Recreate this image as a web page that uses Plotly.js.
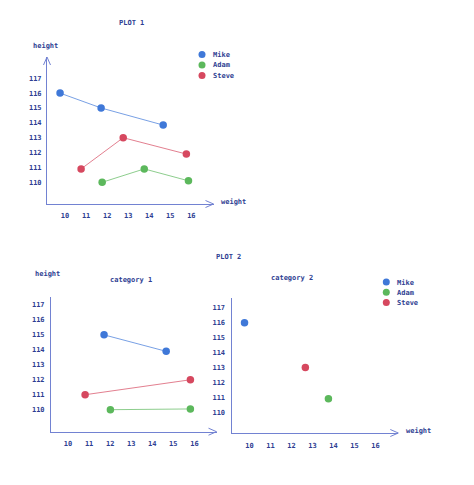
<!DOCTYPE html>
<html>
<head>
<meta charset="utf-8">
<script src="https://cdn.plot.ly/plotly-3.0.1.min.js"></script>
<style>html,body{margin:0;padding:0;background:#fff;}#chart{width:474px;height:485px;}</style>
</head>
<body>
<div id="chart"></div>
<script>
// ---- data ----
const names = ['Mike', 'Adam', 'Steve'];
const colors = ['#3f78d8', '#5cb85c', '#d6485f'];
const lineColors = ['rgba(63,120,216,0.7)', 'rgba(92,184,92,0.7)', 'rgba(214,72,95,0.7)'];
const xTicks = [10, 11, 12, 13, 14, 15, 16];
const yTicks = [110, 111, 112, 113, 114, 115, 116, 117];

// PLOT 1
const p1MikeX = [10, 11.95, 14.9];
const p1MikeY = [116, 115, 113.85];
const p1AdamX = [12, 14, 16.1];
const p1AdamY = [110, 110.9, 110.1];
const p1SteveX = [11, 13, 16];
const p1SteveY = [110.9, 113, 111.9];

// PLOT 2 - category 1
const c1MikeX = [11.9, 14.85];
const c1MikeY = [115, 113.9];
const c1AdamX = [12.2, 16];
const c1AdamY = [110, 110.05];
const c1SteveX = [11, 16];
const c1SteveY = [111, 112];

// PLOT 2 - category 2
const c2MikeX = [10];
const c2MikeY = [116];
const c2AdamX = [14];
const c2AdamY = [110.9];
const c2SteveX = [12.9];
const c2SteveY = [113];

// ---- styling ----
const W = 474, H = 485;
const px = x => x / W;
const py = y => 1 - y / H;
const FONT = 'DejaVu Sans Mono, monospace';
const TXT = '#2e3e92';
const AX = '#7282d2';

function tr(x, y, i, xa, ya) {
  return {
    x: x, y: y, type: 'scatter', mode: 'lines+markers', name: names[i],
    xaxis: xa, yaxis: ya, showlegend: false, cliponaxis: false,
    marker: {color: colors[i], size: 7.5},
    line: {color: lineColors[i], width: 1}
  };
}

const data = [
  tr(p1MikeX, p1MikeY, 0, 'x', 'y'),
  tr(p1AdamX, p1AdamY, 1, 'x', 'y'),
  tr(p1SteveX, p1SteveY, 2, 'x', 'y'),
  tr(c1MikeX, c1MikeY, 0, 'x2', 'y2'),
  tr(c1AdamX, c1AdamY, 1, 'x2', 'y2'),
  tr(c1SteveX, c1SteveY, 2, 'x2', 'y2'),
  tr(c2MikeX, c2MikeY, 0, 'x3', 'y3'),
  tr(c2AdamX, c2AdamY, 1, 'x3', 'y3'),
  tr(c2SteveX, c2SteveY, 2, 'x3', 'y3')
];

function xax(d, r, anchor, shift, standoff) {
  return {
    domain: d, range: r, anchor: anchor, showgrid: false, zeroline: false,
    showline: true, linecolor: AX, linewidth: 1, ticks: '',
    tickmode: 'array', tickvals: xTicks, ticktext: xTicks.map(String),
    tickfont: {family: FONT, size: 7, color: TXT, weight: 600},
    ticklabelshift: shift, ticklabelstandoff: standoff, fixedrange: true
  };
}
function yax(d, r, anchor, standoff) {
  return {
    domain: d, range: r, anchor: anchor, showgrid: false, zeroline: false,
    showline: true, linecolor: AX, linewidth: 1, ticks: '',
    tickmode: 'array', tickvals: yTicks, ticktext: yTicks.map(String),
    tickfont: {family: FONT, size: 7, color: TXT, weight: 600},
    ticklabelstandoff: standoff, fixedrange: true
  };
}

function txt(text, x, y, anchor) {
  return {text: text, x: px(x), y: py(y), xref: 'paper', yref: 'paper',
    showarrow: false, xanchor: anchor || 'center', yanchor: 'middle',
    font: {family: FONT, size: 7, color: TXT, weight: 600}};
}

const annotations = [
  txt('PLOT 1', 131.7, 23),
  txt('height', 45, 46.5),
  txt('weight', 233.3, 201.5),
  txt('PLOT 2', 228.5, 256.5),
  txt('height', 47.7, 274),
  txt('category 1', 131.2, 280),
  txt('category 2', 292.2, 278.3),
  txt('weight', 418, 431)
];

const shapes = [];
function arrow(tx, ty, dir) {
  let p;
  if (dir === 'right') {
    p = `M ${px(tx - 8)} ${py(ty - 3.5)} L ${px(tx)} ${py(ty)} L ${px(tx - 8)} ${py(ty + 3.5)}`;
  } else {
    p = `M ${px(tx - 3.5)} ${py(ty + 8)} L ${px(tx)} ${py(ty)} L ${px(tx + 3.5)} ${py(ty + 8)}`;
  }
  shapes.push({type: 'path', path: p, xref: 'paper', yref: 'paper', line: {color: AX, width: 1}});
}
arrow(213.5, 204, 'right');
arrow(47, 57, 'up');
arrow(216.5, 431.7, 'right');
arrow(398.3, 433, 'right');

function legend(mx, myTop, gap, tx) {
  names.forEach((n, i) => {
    const cy = myTop + i * gap;
    const r = 3.5;
    shapes.push({type: 'circle', xref: 'paper', yref: 'paper',
      x0: px(mx - r), x1: px(mx + r), y0: py(cy + r), y1: py(cy - r),
      fillcolor: colors[i], line: {width: 0}});
    annotations.push(txt(n, tx, cy + 0.5, 'left'));
  });
}
legend(202, 54.5, 10.5, 210.5);
legend(386.3, 282, 10.3, 394.5);

const layout = {
  width: W, height: H,
  margin: {l: 0, r: 0, t: 0, b: 0},
  paper_bgcolor: '#ffffff', plot_bgcolor: 'rgba(0,0,0,0)',
  showlegend: false,
  xaxis: xax([px(47), px(213.5)], [9.38, 17.29], 'y', 5, 5),
  yaxis: yax([py(204), py(57)], [108.54, 118.43], 'x', 3),
  xaxis2: xax([px(51), px(216.5)], [9.38, 17.24], 'y2', 4, 5),
  yaxis2: yax([py(431.7), py(297.3)], [108.53, 117.51], 'x2', 4),
  xaxis3: xax([px(231.5), px(398.3)], [9.38, 17.33], 'y3', 5, 6),
  yaxis3: yax([py(433), py(298.3)], [108.61, 117.63], 'x3', 4),
  annotations: annotations,
  shapes: shapes
};

Plotly.newPlot('chart', data, layout, {displayModeBar: false, staticPlot: true});
</script>
</body>
</html>
